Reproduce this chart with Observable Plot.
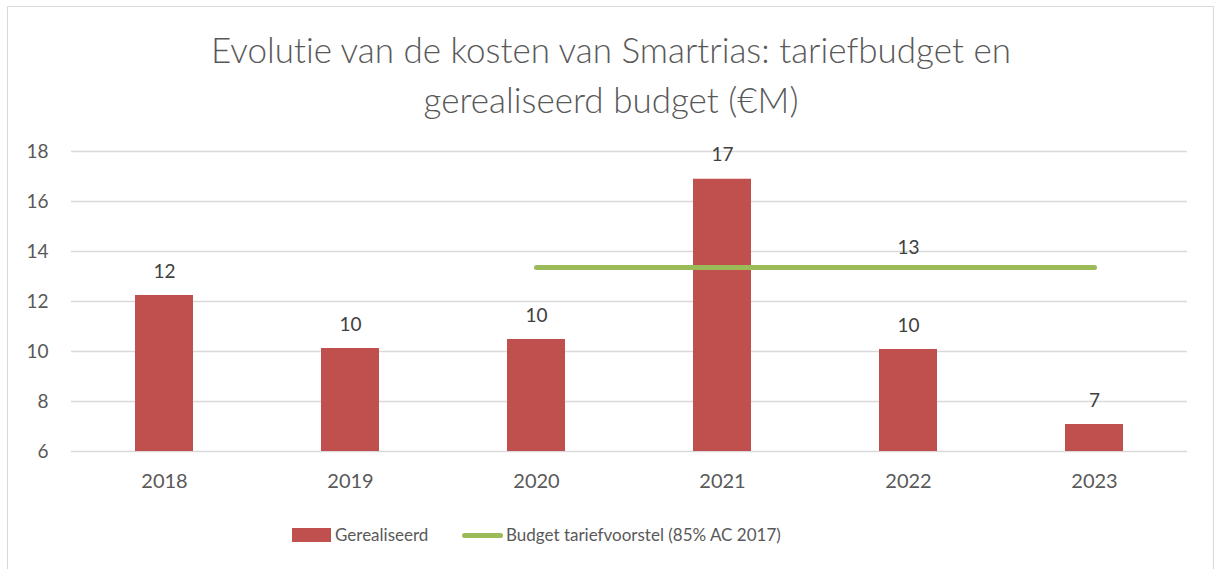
<!DOCTYPE html>
<html>
<head>
<meta charset="utf-8">
<script src="https://cdn.jsdelivr.net/npm/d3@7"></script>
<script src="https://cdn.jsdelivr.net/npm/@observablehq/plot@0.6"></script>
<style>
  html, body { margin: 0; padding: 0; background: #fff; }
  body { width: 1222px; height: 569px; position: relative; overflow: hidden; font-family: Lato, "Open Sans", sans-serif; font-variant-ligatures: none; }
  svg, text { font-variant-ligatures: none; }
  #frame { position: absolute; left: 7px; top: 6px; width: 1207px; height: 580px; border: 1.5px solid #d9d9d9; box-sizing: border-box; }
  #title { position: absolute; left: 0; top: 24px; width: 1222px; text-align: center; font-size: 35px; line-height: 50px; color: #595959; font-weight: 300; }
  #chart { position: absolute; left: 0; top: 130px; }
  #legend { position: absolute; top: 524px; left: 0; width: 1222px; height: 24px; font-size: 17px; color: #595959; }
  .sw { position: absolute; }
  .lt { position: absolute; top: 0; line-height: 22px; }
</style>
</head>
<body>
<div id="frame"></div>
<div id="title">Evolutie van de kosten van Smartrias: tariefbudget en<br>gerealiseerd budget (€M)</div>
<div id="chart"></div>
<div id="legend">
  <div class="sw" style="left:292px; top:4px; width:39px; height:14px; background:#C0504D;"></div>
  <div class="lt" style="left:335px;">Gerealiseerd</div>
  <div class="sw" style="left:462px; top:9px; width:41px; height:5px; border-radius:3px; background:#9BBB59;"></div>
  <div class="lt" style="left:506px;">Budget tariefvoorstel (85% AC 2017)</div>
</div>
<script>
const years = ["2018", "2019", "2020", "2021", "2022", "2023"];
const gerealiseerd = [12.24, 10.12, 10.48, 16.89, 10.08, 7.08];
const budget = [null, null, 13.36, 13.36, 13.36, 13.36];
const yTicks = [6, 8, 10, 12, 14, 16, 18];

const bars = years.map((y, i) => ({year: y, value: gerealiseerd[i]}));
const line = years.map((y, i) => ({year: y, value: budget[i]})).filter(d => d.value != null);
const budgetLabel = line.filter(d => d.year === "2022");

const chart = Plot.plot({
  width: 1222,
  height: 370,
  marginTop: 21,
  marginBottom: 49,
  marginLeft: 71,
  marginRight: 35,
  style: {fontFamily: "Lato, 'Open Sans', sans-serif", fontSize: "19px", color: "#595959", background: "transparent"},
  x: {domain: years, paddingInner: 0.69, paddingOuter: 0.345, label: null, tickSize: 0, tickPadding: 22},
  y: {domain: [6, 18], ticks: yTicks, label: null, tickSize: 0, tickPadding: 23},
  marks: [
    Plot.ruleY(yTicks, {stroke: "#d9d9d9", strokeWidth: 1.4}),
    Plot.axisX({tickSize: 0, tickPadding: 22, fontSize: 20, label: null}),
    Plot.axisY({ticks: yTicks, tickSize: 0, tickPadding: 23, fontSize: 19, label: null}),
    Plot.barY(bars, {x: "year", y1: 6, y2: "value", fill: "#C0504D"}),
    Plot.line(line, {x: "year", y: "value", stroke: "#9BBB59", strokeWidth: 5, strokeLinecap: "round"}),
    Plot.text(bars, {x: "year", y: "value", text: d => d3.format(".0f")(d.value), dy: -24, fill: "#404040", fontSize: 19}),
    Plot.text(budgetLabel, {x: "year", y: "value", text: d => d3.format(".0f")(d.value), dy: -20, fill: "#404040", fontSize: 19})
  ]
});
document.getElementById("chart").appendChild(chart);
</script>
</body>
</html>
